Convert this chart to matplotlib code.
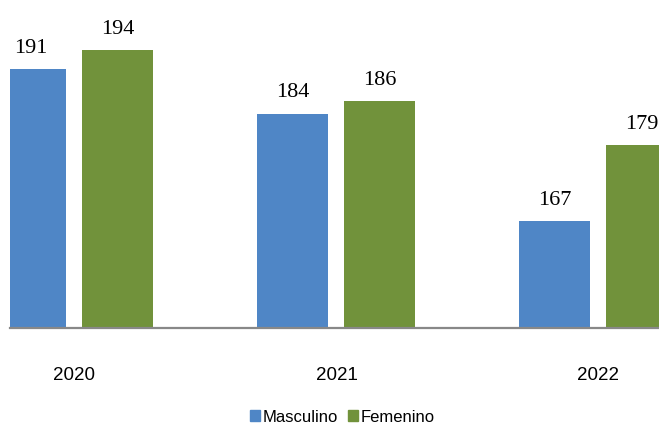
import numpy as np
import matplotlib.pyplot as plt
from matplotlib.patches import Patch

years = ["2020", "2021", "2022"]
masculino = [191, 184, 167]
femenino = [194, 186, 179]
series_names = ["Masculino", "Femenino"]

blue = "#4F86C6"
green = "#71923B"

fig = plt.figure(figsize=(6.59, 4.28), dpi=100)
# plot area: from x=10px to the right edge, baseline at 328px
ax = fig.add_axes([10 / 659, 1 - 328 / 428, 1 - 10 / 659, 328 / 428])

x = np.arange(len(years))
w = 0.271
off = (w + 0.061) / 2

b1 = ax.bar(x - off, masculino, w, color=blue, zorder=2)
b2 = ax.bar(x + off, femenino, w, color=green, zorder=2)

for bars, vals in [(b1, masculino), (b2, femenino)]:
    for rect, v in zip(bars, vals):
        ax.annotate(str(v), (rect.get_x() + rect.get_width() / 2, v),
                    xytext=(0, 8), textcoords="offset points",
                    ha="center", va="bottom", fontsize=16,
                    family="Liberation Serif", clip_on=False)

ax.set_xlim(-0.246, 2.231)
ax.set_ylim(150, 202)

ax.set_xticks(x)
ax.set_xticklabels(years, fontsize=13.5, family="Liberation Sans")
ax.tick_params(axis="x", length=0, pad=28)
ax.set_yticks([])

for s in ["top", "right", "left"]:
    ax.spines[s].set_visible(False)
ax.spines["bottom"].set_color("#888888")
ax.spines["bottom"].set_linewidth(1.6)
ax.spines["bottom"].set_zorder(3)

handles = [Patch(color=blue), Patch(color=green)]
fig.legend(handles, series_names, loc="center",
           bbox_to_anchor=(0.52, 1 - 417 / 428), ncol=2, frameon=False,
           handlelength=0.6, handleheight=0.6,
           handletextpad=0.15, columnspacing=0.6,
           prop={"family": "Liberation Sans", "size": 12})

plt.savefig("out.png", dpi=100)
